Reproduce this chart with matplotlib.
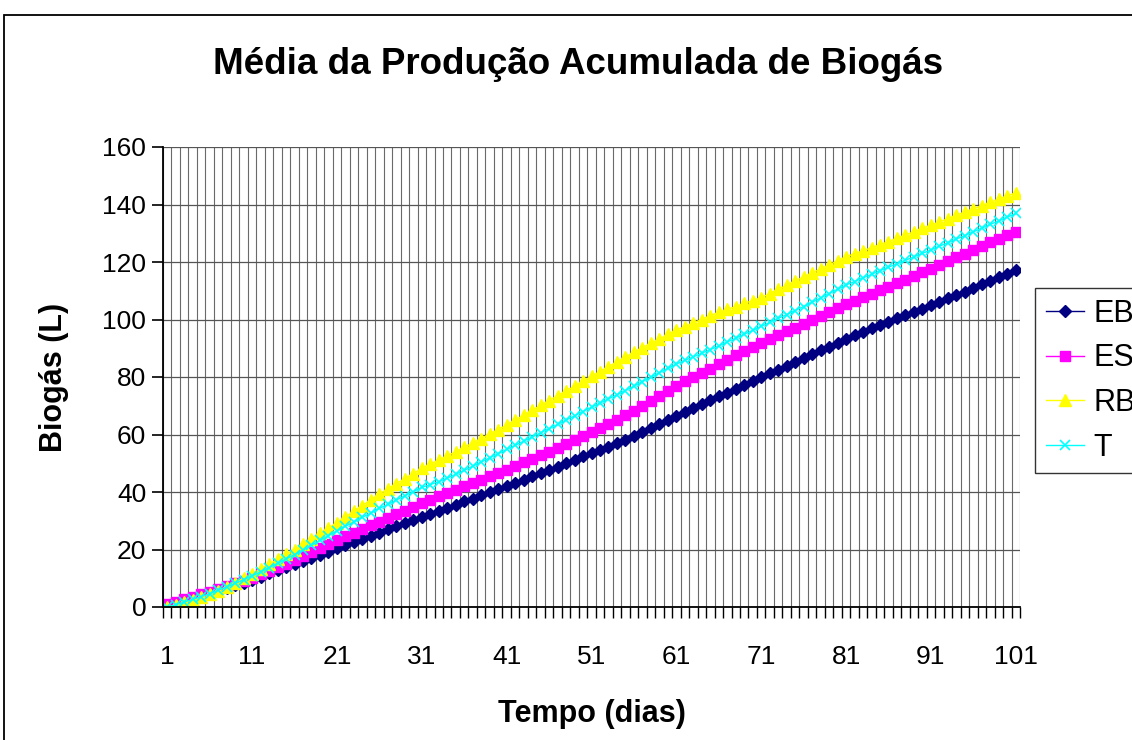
import numpy as np
import matplotlib.pyplot as plt
from matplotlib.patches import Rectangle

plt.rcParams['font.family'] = ['Liberation Sans', 'DejaVu Sans']

# --- DATA ---
dias = np.arange(1, 102)  # category 1..101

eb = [0.5, 1.3, 2.1, 2.9, 3.7, 4.5,
      5.5, 6.5, 7.5, 8.5, 9.5,
      10.6, 11.7, 12.8, 13.9, 15.0,
      16.1, 17.2, 18.2, 19.3, 20.4,
      21.5, 22.6, 23.7, 24.8, 25.9,
      27.0, 28.1, 29.2, 30.3, 31.4,
      32.5, 33.5, 34.6, 35.6, 36.7,
      37.7, 38.8, 39.9, 40.9, 42.0,
      43.1, 44.2, 45.4, 46.5, 47.6,
      48.8, 50.0, 51.2, 52.4, 53.6,
      54.7, 55.8, 56.9, 58.2, 59.5,
      60.9, 62.3, 63.7, 65.1, 66.6,
      67.9, 69.3, 70.6, 72.0, 73.3,
      74.6, 76.0, 77.3, 78.7, 80.0,
      81.3, 82.6, 84.0, 85.3, 86.6,
      87.9, 89.3, 90.6, 92.0, 93.3,
      94.5, 95.7, 96.9, 98.0, 99.2,
      100.4, 101.5, 102.7, 103.8, 105.0,
      106.2, 107.4, 108.5, 109.7, 110.9,
      112.2, 113.4, 114.7, 115.9, 117.2]

es = [1.0, 1.8, 2.7, 3.5, 4.4, 5.2,
      6.2, 7.2, 8.2, 9.2, 10.2,
      11.4, 12.6, 13.8, 15.1, 16.3,
      17.7, 19.1, 20.5, 21.9, 23.3,
      24.6, 25.9, 27.1, 28.4, 29.7,
      31.0, 32.3, 33.5, 34.8, 36.1,
      37.3, 38.5, 39.6, 40.8, 42.0,
      43.2, 44.3, 45.5, 46.6, 47.8,
      49.0, 50.3, 51.5, 52.8, 54.0,
      55.4, 56.8, 58.2, 59.6, 61.0,
      62.2, 63.5, 65.2, 66.8, 68.3,
      70.0, 71.8, 73.5, 75.2, 77.0,
      78.5, 80.0, 81.4, 82.9, 84.4,
      85.9, 87.5, 89.0, 90.5, 92.0,
      93.3, 94.6, 95.9, 97.2, 98.5,
      99.9, 101.2, 102.6, 103.9, 105.3,
      106.5, 107.7, 109.0, 110.2, 111.4,
      112.7, 113.9, 115.2, 116.4, 117.7,
      119.0, 120.3, 121.6, 122.9, 124.2,
      125.5, 126.8, 128.0, 129.3, 130.6]

rb = [0.0, 0.8, 1.6, 2.5, 3.4, 4.4,
      5.7, 7.1, 8.5, 10.0, 11.5,
      13.2, 14.9, 16.6, 18.3, 20.0,
      21.9, 23.7, 25.6, 27.4, 29.3,
      31.3, 33.3, 35.3, 37.3, 39.3,
      41.1, 42.9, 44.6, 46.4, 48.2,
      49.7, 51.1, 52.6, 54.0, 55.5,
      57.1, 58.6, 60.2, 61.7, 63.3,
      65.0, 66.7, 68.4, 70.1, 71.8,
      73.5, 75.2, 76.8, 78.5, 80.2,
      81.9, 83.6, 85.2, 86.9, 88.6,
      90.2, 91.7, 93.2, 94.8, 96.3,
      97.5, 98.8, 100.0, 101.3, 102.5,
      103.5, 104.5, 105.6, 106.6, 107.6,
      109.0, 110.5, 111.9, 113.4, 114.8,
      116.2, 117.6, 119.0, 120.4, 121.8,
      122.9, 123.9, 125.0, 126.0, 127.1,
      128.2, 129.4, 130.5, 131.7, 132.8,
      133.9, 135.1, 136.2, 137.4, 138.5,
      139.6, 140.7, 141.9, 143.0, 144.1]

t = [0.0, 0.8, 1.7, 2.7, 3.6, 4.6,
     5.8, 7.0, 8.2, 9.5, 10.8,
     12.2, 13.7, 15.2, 16.7, 18.2,
     19.8, 21.5, 23.2, 24.8, 26.5,
     28.1, 29.6, 31.2, 32.7, 34.3,
     35.7, 37.2, 38.7, 40.1, 41.6,
     42.6, 43.6, 44.8, 46.2, 47.5,
     49.0, 50.4, 51.9, 53.3, 54.8,
     56.2, 57.7, 59.1, 60.6, 62.0,
     63.5, 65.0, 66.5, 68.0, 69.5,
     70.9, 72.4, 73.8, 75.3, 76.8,
     78.4, 79.9, 81.5, 83.0, 84.5,
     85.8, 87.0, 88.3, 89.5, 90.8,
     92.2, 93.5, 94.9, 96.2, 97.6,
     99.0, 100.4, 101.7, 103.1, 104.5,
     106.0, 107.5, 109.0, 110.5, 112.0,
     113.2, 114.5, 115.7, 117.0, 118.2,
     119.4, 120.6, 121.8, 123.0, 124.2,
     125.5, 126.7, 128.0, 129.2, 130.5,
     131.8, 133.1, 134.3, 135.6, 136.9]

series_names = ['EB', 'ES', 'RB', 'T']
xtick_labels = [1, 11, 21, 31, 41, 51, 61, 71, 81, 91, 101]

# --- FIGURE ---
W, H = 1132, 740
fig = plt.figure(figsize=(W / 100, H / 100), dpi=100)
ax = fig.add_axes([163 / W, 1 - 607 / H, (1020 - 163) / W, (607 - 147) / H])

# chart area border (cropped at right/bottom like the original)
fig.patches.append(Rectangle((4 / W, -0.05), 1.2, 1 - 15 / H + 0.05,
                             transform=fig.transFigure, fill=False,
                             edgecolor='black', linewidth=1.3))

styles = [
    dict(color='#000080', marker='D', markersize=6.5),
    dict(color='#FF00FF', marker='s', markersize=7.5),
    dict(color='#FFFF00', marker='^', markersize=8.5),
    dict(color='#00FFFF', marker='x', markersize=6.5, markeredgewidth=1.2),
]
for name, vals, st in zip(series_names, [eb, es, rb, t], styles):
    ax.plot(dias, vals, label=name, linewidth=1.0, **st)

ax.set_xlim(0.5, 101.5)
ax.set_ylim(0, 160)
ax.set_yticks(range(0, 161, 20))
ax.set_xticks(xtick_labels)
ax.set_xticklabels([str(v) for v in xtick_labels])
ax.set_xticks(np.arange(0.5, 102, 1.0), minor=True)

ax.grid(True, which='minor', axis='x', color='#6a6a6a', linewidth=0.8)
ax.grid(True, which='major', axis='y', color='#555555', linewidth=0.9)
ax.set_axisbelow(True)

ax.tick_params(axis='x', which='major', length=0, labelsize=19, pad=27)
ax.tick_params(axis='x', which='minor', length=8, width=1, direction='out')
ax.tick_params(axis='y', which='major', length=8, width=1.2, labelsize=19, pad=4)

for s in ['top', 'right']:
    ax.spines[s].set_visible(False)
for s in ['left', 'bottom']:
    ax.spines[s].set_linewidth(1.3)

ax.set_xlabel('Tempo (dias)', fontsize=22, fontweight='bold', labelpad=22)
ax.set_ylabel('Biogás (L)', fontsize=22, fontweight='bold', labelpad=24)
fig.suptitle('Média da Produção Acumulada de Biogás', x=578 / W, y=1 - 64 / H,
             va='center', fontsize=26.5, fontweight='bold')

leg = fig.legend(loc='upper left', bbox_to_anchor=(1035 / W, 1 - 288 / H),
                 bbox_transform=fig.transFigure, borderaxespad=0,
                 fontsize=22, frameon=True, fancybox=False, edgecolor='black',
                 handlelength=1.25, borderpad=0.35, labelspacing=0.48,
                 handletextpad=0.3)
leg.get_frame().set_linewidth(1.0)

fig.savefig('out.png', dpi=100)
